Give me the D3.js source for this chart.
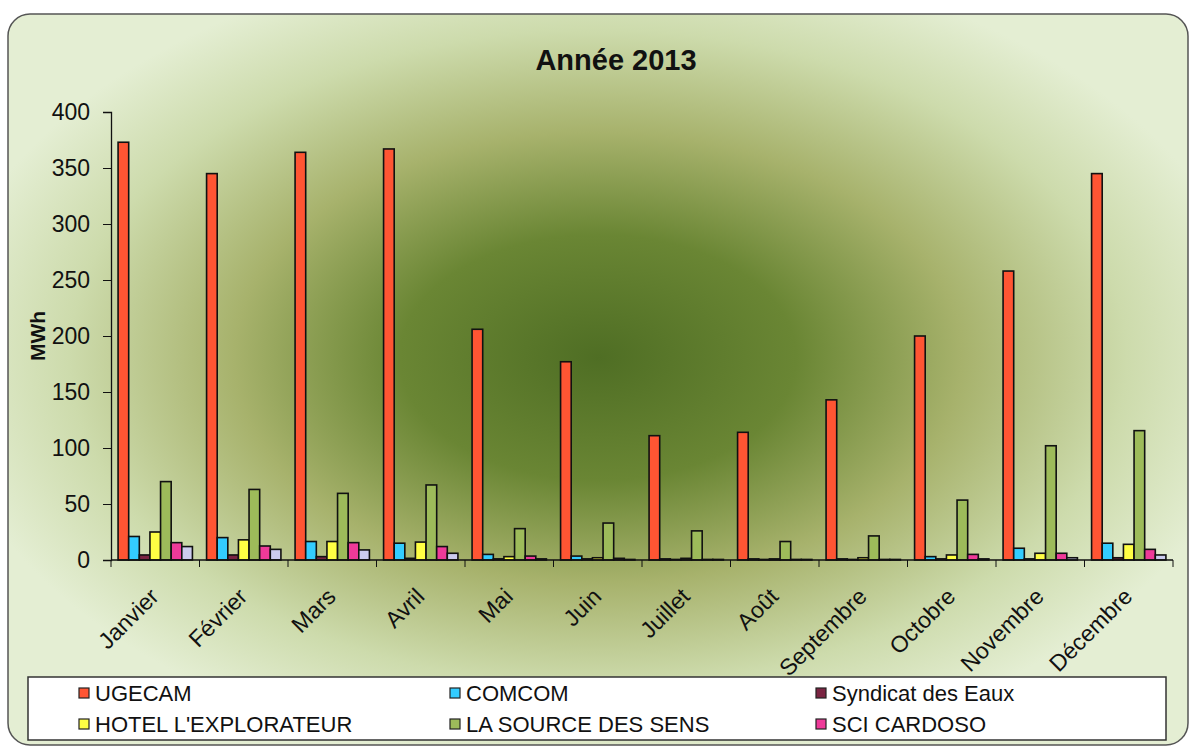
<!DOCTYPE html>
<html><head><meta charset="utf-8">
<script src="https://cdn.jsdelivr.net/npm/d3@7"></script>
<style>body{margin:0;background:#fff;} svg{display:block;font-family:"Liberation Sans",Arial,sans-serif;}</style>
</head><body>
<svg id="c" width="1195" height="750"></svg>
<script>
const months = ["Janvier","Février","Mars","Avril","Mai","Juin","Juillet","Août","Septembre","Octobre","Novembre","Décembre"];
const seriesNames = ["UGECAM","COMCOM","Syndicat des Eaux","HOTEL L'EXPLORATEUR","LA SOURCE DES SENS","SCI CARDOSO","Autre"];
const ugecam   = [373,345,364,367,206,177,111,114,143,200,258,345];
const comcom   = [21,20,16.5,15,5,3.5,1,1,1,3,10.5,15];
const syndicat = [4.5,4.5,3,1.5,1,1,0.5,0.5,0.5,1,1,2];
const hotel    = [25,18,16.5,16,3,2,1.5,1,2,4.5,6,14];
const source   = [70,63,59.5,67,28,33,26,16.5,21.5,53.5,102,115.5];
const cardoso  = [15.5,12.5,15.5,12,3.5,1.5,0.5,0.5,0.5,5,6,9.5];
const autre    = [12,9.5,9,6,1,0.5,0.5,0.5,0.5,1,2,4.5];
const yTicks = [0,50,100,150,200,250,300,350,400];
const legendCount = 6;

const seriesValues = [ugecam,comcom,syndicat,hotel,source,cardoso,autre];
const colors = ["#ff5533","#33ccff","#7a2442","#ffff44","#9dbb5a","#ee3a99","#ccccee"];

const svg = d3.select("#c");
const defs = svg.append("defs");
const rg = defs.append("radialGradient").attr("id","bg").attr("cx","0.5").attr("cy","0.47").attr("r","0.56");
[[0,"#4f6e24"],[0.3,"#6a8634"],[0.55,"#a7b26c"],[0.8,"#cddbac"],[1,"#e4eed3"]].forEach(s=>rg.append("stop").attr("offset",s[0]).attr("stop-color",s[1]));

svg.append("rect").attr("x",8).attr("y",14).attr("width",1180).attr("height",731).attr("rx",22)
  .attr("fill","url(#bg)").attr("stroke","#555").attr("stroke-width",1.5);

const pL=111,pR=1173,pT=112,pB=560;
const x0 = d3.scaleBand().domain(months).range([pL,pR]).paddingInner(0.16).paddingOuter(0.08);
const x1 = d3.scaleBand().domain(d3.range(seriesNames.length)).range([0,x0.bandwidth()]);
const y = d3.scaleLinear().domain([0,400]).range([pB,pT]);

svg.append("text").attr("x",616).attr("y",70).attr("text-anchor","middle")
  .attr("font-size",29).attr("font-weight","bold").attr("fill","#111").text("Année 2013");

// bars
months.forEach((m,i)=>{
  const g = svg.append("g").attr("transform",`translate(${x0(m)},0)`);
  seriesValues.forEach((vals,s)=>{
    g.append("rect").attr("x",x1(s)).attr("y",y(vals[i])).attr("width",x1.bandwidth())
      .attr("height",pB-y(vals[i])).attr("fill",colors[s]).attr("stroke","#111").attr("stroke-width",1.6);
  });
});

// y axis
const ya = svg.append("g").attr("transform",`translate(${pL},0)`)
  .call(d3.axisLeft(y).tickValues(yTicks).tickSize(8).tickPadding(13));
ya.select(".domain").attr("stroke","#111").attr("stroke-width",1.3);
ya.selectAll(".tick line").attr("stroke","#111");
ya.selectAll("text").attr("font-size",23).attr("fill","#111").attr("font-family","Liberation Sans, Arial");

// x axis line and boundary ticks
svg.append("line").attr("x1",pL).attr("x2",pR).attr("y1",pB).attr("y2",pB).attr("stroke","#111").attr("stroke-width",1.3);
const step = x0.step();
d3.range(months.length+1).forEach(k=>{
  const xx = pL + k*step;
  svg.append("line").attr("x1",xx).attr("x2",xx).attr("y1",pB).attr("y2",pB+7).attr("stroke","#111");
});
months.forEach(m=>{
  const cx = x0(m)+x0.bandwidth()/2;
  svg.append("text").attr("transform",`translate(${cx+5},${pB+38}) rotate(-45)`)
    .attr("text-anchor","end").attr("font-size",23).attr("fill","#111").text(m);
});

svg.append("text").attr("transform","translate(45,336) rotate(-90)").attr("text-anchor","middle")
  .attr("font-size",21).attr("font-weight","bold").attr("fill","#111").text("MWh");

// legend
svg.append("rect").attr("x",28).attr("y",677).attr("width",1138).attr("height",63)
  .attr("fill","#fff").attr("stroke","#333").attr("stroke-width",1.5);
const colX=[79,450,816], rowY=[693,724];
seriesNames.slice(0,legendCount).forEach((n,i)=>{
  const cx=colX[i%3], cy=rowY[Math.floor(i/3)];
  svg.append("rect").attr("x",cx).attr("y",cy-5).attr("width",10).attr("height",10)
    .attr("fill",colors[i]).attr("stroke","#222").attr("stroke-width",1.2);
  svg.append("text").attr("x",cx+16).attr("y",cy+8).attr("font-size",22).attr("fill","#111").text(n);
});
</script>
</body></html>
